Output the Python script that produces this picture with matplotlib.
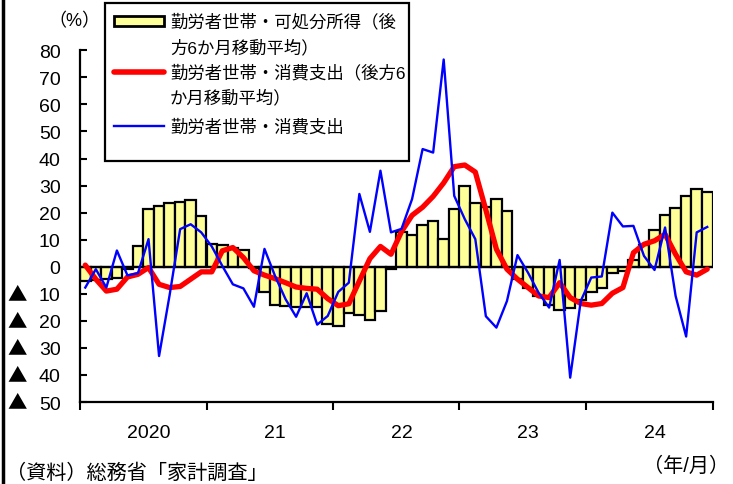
import numpy as np
import matplotlib
matplotlib.use("Agg")
import matplotlib.pyplot as plt
from matplotlib.patches import Rectangle
from matplotlib.lines import Line2D

plt.rcParams['font.family'] = ['Liberation Sans', 'Noto Sans CJK JP', 'DejaVu Sans']

# monthly, 2020/1 - 2024/12 (year-on-year, %)
income_6ma = [
    -5.2, -5.0, -4.5, -4.0, -1.0, 7.7, 21.3, 22.3, 23.5, 24.1, 24.5, 18.7,
    8.5, 8.0, 7.0, 6.0, -0.5, -9.3, -14.2, -14.6, -14.8, -15.0, -15.0, -21.0,
    -21.9, -17.0, -17.8, -19.7, -16.4, -1.0, 12.7, 11.6, 15.4, 16.9, 10.3, 21.5,
    29.7, 23.5, 22.0, 25.1, 20.7, -4.6, -7.7, -10.8, -14.3, -16.0, -15.1, -12.3,
    -9.3, -7.7, -2.5, -1.5, 2.4, 8.0, 13.5, 19.0, 21.8, 26.0, 28.9, 27.6,
]
spending_6ma = [
    0.6, -4.6, -9.0, -8.3, -3.8, -2.8, -0.3, -6.5, -7.7, -7.3, -4.6, -1.9,
    -1.9, 5.9, 7.1, 3.4, -1.5, -3.1, -4.4, -5.9, -7.5, -8.0, -8.3, -11.8,
    -14.4, -13.7, -5.3, 3.0, 7.5, 4.6, 13.0, 19.0, 22.0, 26.0, 31.0, 37.0,
    37.6, 35.0, 21.0, 6.5, -0.9, -4.6, -7.7, -10.8, -11.4, -5.9, -11.4, -13.6,
    -14.2, -13.6, -9.8, -7.7, 5.2, 8.3, 9.6, 12.0, 4.6, -1.9, -3.1, -0.9,
]
spending = [
    -7.7, -0.9, -7.7, 6.0, -3.2, -2.4, 10.2, -33.0, -10.5, 13.9, 15.7, 12.7,
    7.5, 0.3, -6.5, -8.0, -14.8, 6.6, -3.4, -12.0, -18.5, -9.8, -21.4, -18.2,
    -9.3, -5.9, 26.9, 12.9, 35.5, 12.7, 14.0, 25.0, 43.5, 42.2, 76.6, 26.2,
    17.6, 10.2, -18.3, -22.5, -12.7, 4.3, -2.2, -9.6, -15.1, 2.5, -41.0, -12.7,
    -4.0, -3.6, 20.0, 14.9, 15.1, 4.0, -1.2, 14.5, -10.8, -25.8, 12.7, 14.7,
]
year_labels = ["2020", "21", "22", "23", "24"]
y_ticks = list(range(-50, 90, 10))

W, H = 733, 485
fig = plt.figure(figsize=(W / 100, H / 100), dpi=100)


def fx(px):
    return px / W


def fy(py):
    return 1 - py / H


ax = fig.add_axes([fx(80), fy(403), fx(712.5) - fx(80), fy(51.3) - fy(403)])
x = np.arange(len(income_6ma))

ax.bar(x, income_6ma, width=1.0, color="#FFFF99", edgecolor="black",
       linewidth=1.6, zorder=2)
ax.axhline(0, color="black", linewidth=1.6, zorder=3)
ax.plot(x, spending_6ma, color="#FF0000", linewidth=3.8, zorder=4,
        solid_capstyle="round", solid_joinstyle="round")
ax.plot(x, spending, color="#0000FF", linewidth=1.7, zorder=5)

ax.set_xlim(-0.5, len(x) - 0.5)
ax.set_ylim(-50, 80)

for side in ["top", "right"]:
    ax.spines[side].set_visible(False)
for side in ["left", "bottom"]:
    ax.spines[side].set_linewidth(1.6)

# numbers as tick labels, the ▲ sign for negatives drawn separately
ax.set_yticks(y_ticks)
ax.set_yticklabels([str(abs(v)) for v in y_ticks])
ax.tick_params(axis="y", direction="in", length=5, width=1.5, pad=14,
               labelsize=14)
for v in y_ticks:
    if v < 0:
        ax.annotate("▲", xy=(0, v), xycoords=("axes fraction", "data"),
                    xytext=(-63, 0), textcoords="offset pixels",
                    ha="center", va="center", fontsize=14,
                    family="Noto Sans CJK JP")

ax.set_xticks(np.arange(-0.5, len(x), 12))
ax.set_xticklabels([])
ax.tick_params(axis="x", which="major", direction="out", length=6, width=1.5)
ax.set_xticks(np.arange(6, len(x), 12), minor=True)
ax.set_xticklabels(year_labels, minor=True)
ax.tick_params(axis="x", which="minor", length=0, pad=16, labelsize=14)

# legend box
fig.patches.append(Rectangle((fx(105), fy(162)), fx(409) - fx(105), fy(4) - fy(162),
                             transform=fig.transFigure, facecolor="white",
                             edgecolor="black", linewidth=1.6, zorder=10))
fig.patches.append(Rectangle((fx(114), fy(27)), fx(164) - fx(114), fy(17) - fy(27),
                             transform=fig.transFigure, facecolor="#FFFF99",
                             edgecolor="black", linewidth=2.0, zorder=11))
fig.lines.append(Line2D([fx(114), fx(164)], [fy(73), fy(73)], transform=fig.transFigure,
                        color="#FF0000", linewidth=4.0, solid_capstyle="round", zorder=11))
fig.lines.append(Line2D([fx(114), fx(164)], [fy(127), fy(127)], transform=fig.transFigure,
                        color="#0000FF", linewidth=1.7, zorder=11))

legend_lines = [
    ("勤労者世帯・可処分所得（後", 22),
    ("方6か月移動平均）", 48),
    ("勤労者世帯・消費支出（後方6", 73),
    ("か月移動平均）", 98),
    ("勤労者世帯・消費支出", 127),
]
for txt, py in legend_lines:
    fig.text(fx(170), fy(py), txt, fontsize=12.5, va="center", ha="left", zorder=12)

fig.text(fx(100), fy(22), "（%）", fontsize=13, va="center", ha="right")
fig.text(fx(729), fy(466), "（年/月）", fontsize=14.5, va="center", ha="right")
fig.text(fx(6), fy(473), "（資料）総務省「家計調査」", fontsize=14.5, va="center", ha="left")

# left frame edge
fig.lines.append(Line2D([fx(3), fx(3)], [0, 1], transform=fig.transFigure,
                        color="black", linewidth=2.5))

fig.savefig("out.png", dpi=100)
